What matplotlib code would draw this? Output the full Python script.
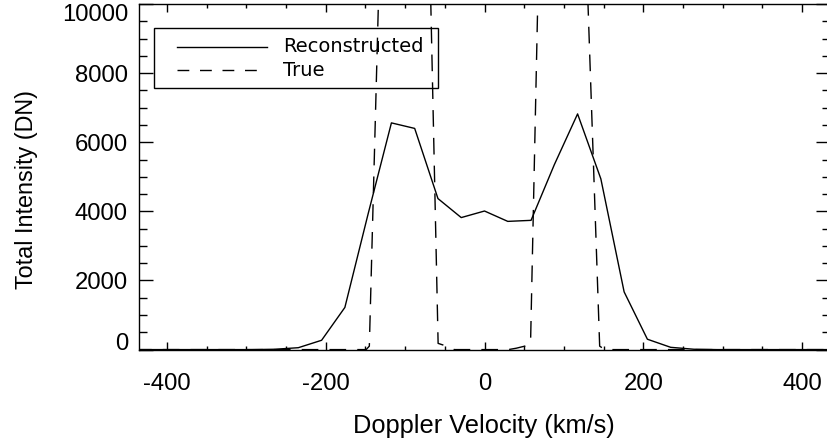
import matplotlib
matplotlib.use("Agg")
import matplotlib.pyplot as plt
from matplotlib.ticker import MultipleLocator, FixedLocator
from matplotlib.patches import Rectangle
from matplotlib.lines import Line2D

plt.rcParams["font.family"] = ["Liberation Sans", "DejaVu Sans"]
plt.rcParams["axes.unicode_minus"] = False

# reconstructed line profile (velocity grid, km/s)
recon_v = [-439.5, -410.2, -380.9, -351.6, -322.3, -293.0, -263.7, -234.4,
           -205.1, -175.8, -146.5, -117.2, -87.9, -58.6, -29.3, 0.0, 29.3,
           58.6, 87.9, 117.2, 146.5, 175.8, 205.1, 234.4, 263.7, 293.0,
           322.3, 351.6, 380.9, 410.2, 439.5]
recon_i = [0, 0, 0, 0, 0, 0, 10, 55, 270, 1220, 3930, 6560, 6400, 4370, 3820,
           4010, 3710, 3740, 5350, 6820, 4940, 1670, 300, 66, 10, 0, 0, 0, 0,
           0, 0]

# true profile (two steep-edged components, tops far off scale)
true_v = [-440, -149, -145, -125, -102, -80, -58.4, -45.8, -38, 30, 40, 50.7,
          58, 80, 101, 122, 145, 151.4, 440]
true_i = [0, 0, 100, 17470, 20000, 23240, 180, 85, 0, 0, 40, 100, 200, 24150,
          20000, 15590, 100, 0, 0]

x_major = [-400, -200, 0, 200, 400]
y_major = [0, 2000, 4000, 6000, 8000, 10000]

W, H = 827, 444
fig = plt.figure(figsize=(W / 100, H / 100), dpi=100)
ax = fig.add_axes([139 / W, 94.4 / H, 691 / W, 345.6 / H])

ax.plot(recon_v, recon_i, color="black", lw=1.0)
ax.plot(true_v, true_i, color="black", lw=1.0, linestyle=(0, (12, 8)))

ax.set_xlim(-435, 435)
ax.set_ylim(0, 10000)
ax.xaxis.set_major_locator(FixedLocator(x_major))
ax.xaxis.set_minor_locator(MultipleLocator(50))
ax.yaxis.set_major_locator(FixedLocator(y_major))
ax.yaxis.set_minor_locator(MultipleLocator(500))

for sp in ax.spines.values():
    sp.set_linewidth(1.0)
ax.tick_params(which="both", direction="in", top=True, right=True,
               width=1.0, labelsize=17.2)
ax.tick_params(axis="x", which="major", length=5.5, pad=16.5)
ax.tick_params(axis="x", which="minor", length=3)
ax.tick_params(axis="y", which="major", length=10, pad=8)
ax.tick_params(axis="y", which="minor", length=5.8)

# end labels sit inside the axis range, as in the original
yt = ax.yaxis.get_major_ticks()
yt[0].label1.set_va("baseline")
yt[-1].label1.set_va("top")

ax.set_xlabel("Doppler Velocity (km/s)", fontsize=18.3, va="center")
ax.xaxis.set_label_coords((483.5 - 139) / 691, (349.6 - 426) / 345.6)
ax.set_ylabel("Total Intensity (DN)", fontsize=16.8, va="center", ha="center")
ax.yaxis.set_label_coords((27 - 139) / 691, (349.6 - 189.5) / 345.6)

# legend, drawn by hand so the box stays see-through like the original
def fx(px):
    return px / W

def fy(py):
    return 1 - py / H

fig.patches.append(Rectangle((fx(154), fy(88)), fx(438) - fx(154),
                             fy(28) - fy(88), fill=False, lw=1.0,
                             edgecolor="black", transform=fig.transFigure))
fig.lines.append(Line2D([fx(177), fx(267)], [fy(47), fy(47)], color="black",
                        lw=1.0, transform=fig.transFigure))
fig.lines.append(Line2D([fx(177), fx(267)], [fy(70), fy(70)], color="black",
                        lw=1.0, linestyle=(0, (8.5, 7.7)),
                        transform=fig.transFigure))
fig.text(fx(283), fy(47), "Reconstructed", fontsize=14, family="DejaVu Sans",
         va="center", ha="left")
fig.text(fx(283), fy(70), "True", fontsize=14, family="DejaVu Sans",
         va="center", ha="left")

fig.savefig("out.png", dpi=100)
